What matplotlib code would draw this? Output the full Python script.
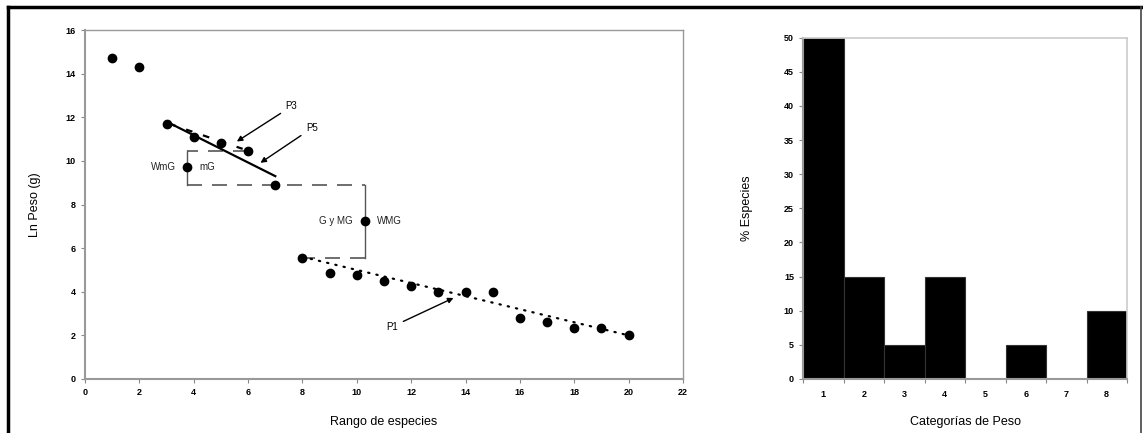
import matplotlib
matplotlib.use('Agg')
import matplotlib.pyplot as plt
from matplotlib.lines import Line2D

plt.rcParams['font.family'] = ['Liberation Sans', 'DejaVu Sans']

# Ln peso vs rango de especies
rango = [1, 2, 3, 4, 5, 6, 7, 8, 9, 10, 11, 12, 13, 14, 15, 16, 17, 18, 19, 20]
ln_peso = [14.7, 14.3, 11.7, 11.1, 10.8, 10.45, 8.9, 5.55, 4.85, 4.75, 4.5, 4.25,
           4.0, 4.0, 4.0, 2.8, 2.6, 2.35, 2.35, 2.0]

# breakpoint markers (WmG / WMG)
corte_x = [3.74, 10.3]
corte_y = [9.7, 7.25]

# fitted segments
p5_x, p5_y = [3.0, 7.0], [11.8, 9.3]
p3_x, p3_y = [3.1, 5.8], [11.7, 10.55]
p1_x, p1_y = [8.0, 20.0], [5.6, 2.0]

# histogram of weight categories
categorias = [1, 2, 3, 4, 5, 6, 7, 8]
pct_especies = [50, 15, 5, 15, 0, 5, 0, 10]

fig = plt.figure(figsize=(11.43, 4.33), dpi=100)

# outer frame
fig.add_artist(Line2D([8/1143, 8/1143], [0, 1 - 7/433], transform=fig.transFigure, color='black', lw=2.5))
fig.add_artist(Line2D([8/1143, 1141/1143], [1 - 7/433, 1 - 7/433], transform=fig.transFigure, color='black', lw=2.5))
fig.add_artist(Line2D([1141/1143, 1141/1143], [0, 1 - 7/433], transform=fig.transFigure, color='#444444', lw=1.2))

tick_kw = dict(labelsize=6.5, length=3, width=0.8, color='#888888')

# ---- left panel ----
ax1 = fig.add_axes([85/1143, 1 - 379/433, (683 - 85)/1143, (379 - 30)/433])
ax1.scatter(rango, ln_peso, s=36, color='black', zorder=4)
ax1.scatter(corte_x, corte_y, s=36, color='black', zorder=4)
ax1.plot(p5_x, p5_y, color='black', lw=1.6, zorder=3)
ax1.plot(p3_x, p3_y, color='black', lw=1.6, ls=(0, (3, 5)), zorder=3)
ax1.plot(p1_x, p1_y, color='black', lw=1.6, ls=(0, (0.6, 3.2)), dash_capstyle='round', zorder=3)

# brackets
dash = (0, (9, 6))
ax1.plot([6.0, 3.74], [10.45, 10.45], color='#555555', lw=1.2, ls=dash)
ax1.plot([3.74, 3.74], [10.45, 8.9], color='#555555', lw=1.0)
ax1.plot([3.74, 10.3], [8.9, 8.9], color='#555555', lw=1.2, ls=dash)
ax1.plot([10.3, 10.3], [8.9, 5.55], color='#555555', lw=1.0)
ax1.plot([10.3, 8.0], [5.55, 5.55], color='#555555', lw=1.2, ls=dash)

txt = dict(fontsize=7, color='#222222', va='center')
ax1.text(3.35, 9.7, 'WmG', ha='right', **txt)
ax1.text(4.2, 9.7, 'mG', ha='left', **txt)
ax1.text(9.85, 7.25, 'G y MG', ha='right', **txt)
ax1.text(10.75, 7.25, 'WMG', ha='left', **txt)

arr = dict(arrowstyle='-|>', color='black', lw=1.0, mutation_scale=8)
ax1.annotate('P3', xy=(5.5, 10.82), xytext=(7.6, 12.5), fontsize=7, ha='center', va='center', arrowprops=arr)
ax1.annotate('P5', xy=(6.37, 9.84), xytext=(8.35, 11.5), fontsize=7, ha='center', va='center', arrowprops=arr)
ax1.annotate('P1', xy=(13.65, 3.77), xytext=(11.3, 2.4), fontsize=7, ha='center', va='center', arrowprops=arr)

ax1.set_xlim(0, 22)
ax1.set_ylim(0, 16)
ax1.set_xticks(range(0, 23, 2))
ax1.set_yticks(range(0, 17, 2))
ax1.tick_params(**tick_kw)
for lab in ax1.get_xticklabels() + ax1.get_yticklabels():
    lab.set_fontweight('bold')
for s in ax1.spines.values():
    s.set_color('#999999')
    s.set_linewidth(1.0)
ax1.spines['left'].set_linewidth(1.5)
ax1.spines['bottom'].set_linewidth(1.5)
ax1.set_xlabel('Rango de especies', fontsize=9, labelpad=14)
ax1.set_ylabel('Ln Peso (g)', fontsize=9, labelpad=18)

# ---- right panel ----
ax2 = fig.add_axes([803/1143, 1 - 379/433, (1127 - 803)/1143, (379 - 37.7)/433])
ax2.bar(categorias, pct_especies, width=1.0, color='black', edgecolor='#333333', linewidth=0.8)
ax2.set_xlim(0.5, 8.5)
ax2.set_ylim(0, 50)
ax2.set_yticks(range(0, 51, 5))
ax2.set_xticks(categorias)
ax2.set_xticks([c - 0.5 for c in categorias] + [8.5], minor=True)
ax2.tick_params(axis='x', which='major', length=0, labelsize=6.5, pad=8)
ax2.tick_params(axis='x', which='minor', length=3, width=0.8, color='#888888')
ax2.tick_params(axis='y', **tick_kw)
for lab in ax2.get_xticklabels() + ax2.get_yticklabels():
    lab.set_fontweight('bold')
for s in ax2.spines.values():
    s.set_color('#cccccc')
    s.set_linewidth(1.2)
ax2.spines['left'].set_color('#999999')
ax2.spines['bottom'].set_color('#999999')
ax2.spines['left'].set_linewidth(1.5)
ax2.spines['bottom'].set_linewidth(1.5)
ax2.set_xlabel('Categorías de Peso', fontsize=9, labelpad=12)
ax2.set_ylabel('% Especies', fontsize=9, labelpad=22)

fig.savefig('out.png', dpi=100)
